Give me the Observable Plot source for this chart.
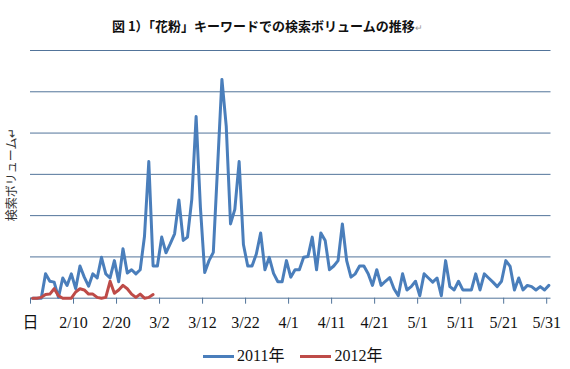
<!DOCTYPE html>
<html>
<head>
<meta charset="utf-8">
<script src="https://cdn.jsdelivr.net/npm/d3@7"></script>
<script src="https://cdn.jsdelivr.net/npm/@observablehq/plot@0.6"></script>
<style>
  html, body { margin: 0; padding: 0; background: #fff; }
  #wrap { position: relative; width: 570px; height: 369px; overflow: hidden; }
  #title { position: absolute; top: 18px; left: 112px; white-space: nowrap;
    font-family: "Noto Sans CJK JP", sans-serif; font-weight: bold; font-size: 13px; line-height: 16px; color: #111; }
  #title .pm { font-weight: normal; font-size: 9px; color: #999; }
  #chart { position: absolute; top: 40px; left: 0; }
  #legend { position: absolute; top: 347px; left: 203px; display: flex; align-items: center;
    font-family: "Liberation Serif", "Noto Sans CJK JP", serif; font-size: 16px; line-height: 18px; color: #111; white-space: nowrap; }
  #legend .sw { display: inline-block; width: 31px; height: 3px; margin-right: 3px; }
  g[aria-label="x-axis tick"] path, g[aria-label="x-axis"] line { stroke: #52749a !important; }
</style>
</head>
<body>
<div id="wrap">
  <div id="title"></div>
  <div id="chart"></div>
  <div id="legend"></div>
</div>
<script>
// ---- data ----
const titleText = "図 1）「花粉」キーワードでの検索ボリュームの推移";
const yLabel = "検索ボリューム↵";
const seriesNames = ["2011年", "2012年"];
const seriesColors = ["#4A7EBB", "#BE4B48"];
const startDate = "2011-01-31";
const endDate = "2011-06-01";
const xTickDates = ["2011-01-31","2011-02-10","2011-02-20","2011-03-02","2011-03-12","2011-03-22",
  "2011-04-01","2011-04-11","2011-04-21","2011-05-01","2011-05-11","2011-05-21","2011-05-31"];
const xTickLabels = ["日","2/10","2/20","3/2","3/12","3/22","4/1","4/11","4/21","5/1","5/11","5/21","5/31"];
const yGrid = [0, 100, 200, 300, 400, 500, 600];

// daily values (index = day from 1/31)
const vol2011 = [
  0, 0, 0, 59, 41, 39, 2, 49, 31, 59,
  23, 78, 51, 29, 59, 49, 99, 59, 49, 91,
  40, 120, 61, 69, 59, 69, 150, 331, 78, 78,
  148, 110, 132, 156, 238, 140, 148, 240, 440, 220,
  62, 91, 111, 320, 530, 417, 180, 215, 331, 130,
  78, 78, 107, 158, 69, 99, 60, 40, 40, 91,
  51, 69, 69, 99, 101, 148, 69, 158, 140, 69,
  78, 91, 180, 91, 51, 59, 78, 78, 59, 31,
  69, 31, 41, 50, 23, 6, 59, 20, 28, 41,
  6, 59, 49, 39, 49, 6, 91, 28, 20, 41,
  20, 20, 20, 59, 20, 59, 49, 39, 28, 41,
  91, 77, 20, 49, 20, 31, 28, 20, 28, 20,
  31
];
const vol2012 = [
  0, 0, 2, 9, 10, 23, 6, 0, 0, 0,
  15, 23, 20, 10, 10, 2, 0, 2, 41, 12,
  20, 31, 23, 10, 2, 10, 0, 2, 9
];

// ---- build ----
const DAY = 86400000;
const t0 = Date.parse(startDate + "T00:00:00Z");
const toRows = (arr, name) => arr.map((v, i) => ({date: new Date(t0 + i * DAY + DAY / 2), value: v, series: name}));
const rows = [...toRows(vol2011, seriesNames[0]), ...toRows(vol2012, seriesNames[1])];
const tickDates = xTickDates.map(s => new Date(s + "T00:00:00Z"));
const labelOf = new Map(tickDates.map((d, i) => [+d, xTickLabels[i]]));

const titleEl = document.getElementById("title");
titleEl.textContent = titleText;
const pm = document.createElement("span"); pm.className = "pm"; pm.textContent = "↵";
titleEl.appendChild(pm);

const chart = Plot.plot({
  width: 570,
  height: 300,
  marginTop: 10,
  marginBottom: 42.3,
  marginLeft: 30,
  marginRight: 19.5,
  style: {fontFamily: "'Liberation Serif', 'Noto Sans CJK JP', serif", fontSize: "16px", color: "#111", background: "transparent", overflow: "visible"},
  x: {type: "utc", domain: [new Date(startDate + "T00:00:00Z"), new Date(endDate + "T00:00:00Z")],
      ticks: tickDates, tickFormat: d => labelOf.get(+d) ?? "", tickSize: 6, tickPadding: 12, label: null},
  y: {domain: [0, 600], axis: null},
  color: {domain: seriesNames, range: seriesColors},
  marks: [
    Plot.ruleY(yGrid, {stroke: "#52749a", strokeWidth: 1}),
    Plot.line(rows, {x: "date", y: "value", z: "series", stroke: "series", strokeWidth: 3,
      strokeLinejoin: "round", strokeLinecap: "round"}),
    Plot.text([yLabel], {frameAnchor: "left", textAnchor: "middle", rotate: -90, dx: -18, dy: 0, fontSize: 12,
      fontFamily: "'Noto Sans CJK JP', sans-serif", fill: "#333"})
  ]
});
document.getElementById("chart").appendChild(chart);

const legend = document.getElementById("legend");
seriesNames.forEach((name, i) => {
  const item = document.createElement("span");
  item.style.display = "inline-flex"; item.style.alignItems = "center";
  if (i > 0) item.style.marginLeft = "16px";
  const sw = document.createElement("span"); sw.className = "sw"; sw.style.background = seriesColors[i];
  item.appendChild(sw);
  item.appendChild(document.createTextNode(name));
  legend.appendChild(item);
});
</script>
</body>
</html>
